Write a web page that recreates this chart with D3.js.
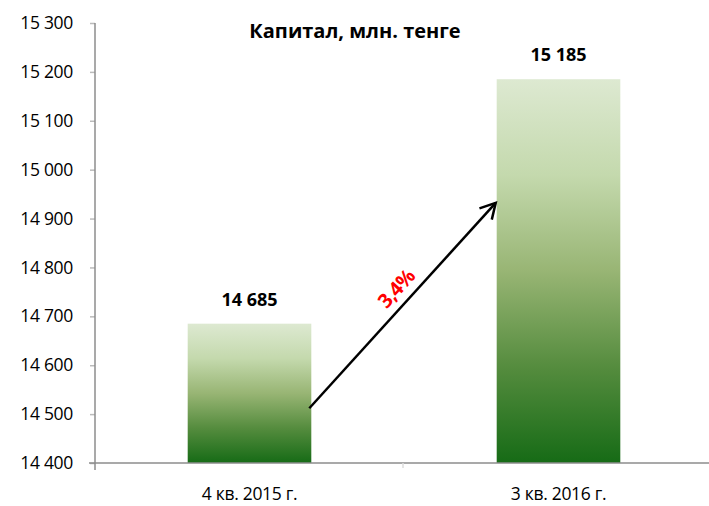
<!DOCTYPE html>
<html><head><meta charset="utf-8">
<script src="https://cdn.jsdelivr.net/npm/d3@7"></script>
<style>body{margin:0;background:#fff;}svg{display:block;}</style>
</head><body>
<svg id="c" width="709" height="506"></svg>
<script>
const categories = ["4 кв. 2015 г.", "3 кв. 2016 г."];
const values = [14685, 15185];
const valueLabels = ["14 685", "15 185"];
const tickValues = [14400, 14500, 14600, 14700, 14800, 14900, 15000, 15100, 15200, 15300];
const title = "Капитал, млн. тенге";
const growthLabel = "3,4%";
const arrowFrom = 14512, arrowTo = 14932;

const svg = d3.select("#c");
const font = "'Open Sans', sans-serif";
const y = d3.scaleLinear().domain([14400, 15300]).range([463, 23]);
const x = d3.scaleBand().domain(categories).range([95, 713]).paddingInner(0.6).paddingOuter(0.3);

const defs = svg.append("defs");
const g = defs.append("linearGradient").attr("id", "gr").attr("x1", 0).attr("y1", 0).attr("x2", 0).attr("y2", 1);
[["0%", "#dde9d1"], ["25%", "#c4d9ad"], ["50%", "#98b574"], ["75%", "#558c3e"], ["100%", "#166b16"]]
  .forEach(s => g.append("stop").attr("offset", s[0]).attr("stop-color", s[1]));

const mk = defs.append("marker").attr("id", "ah").attr("viewBox", "0 0 12 12").attr("refX", 10).attr("refY", 6)
  .attr("markerWidth", 8).attr("markerHeight", 8).attr("markerUnits", "strokeWidth").attr("orient", "auto");
mk.append("path").attr("d", "M1,1 L10,6 L1,11").attr("fill", "none").attr("stroke", "#000").attr("stroke-width", 1.5);

svg.selectAll("rect.bar").data(values).join("rect").attr("class", "bar")
  .attr("x", (d, i) => x(categories[i])).attr("width", x.bandwidth())
  .attr("y", d => y(d)).attr("height", d => y(14400) - y(d)).attr("fill", "url(#gr)");

// Y axis
const yAxis = d3.axisLeft(y).tickValues(tickValues).tickSize(5).tickPadding(17)
  .tickFormat(d => d3.format(",")(d).replace(",", " "));
const ga = svg.append("g").attr("transform", "translate(95,0)").call(yAxis);
ga.select(".domain").remove();
ga.selectAll("line").attr("stroke", "#bbb").attr("stroke-width", 1.5);
ga.selectAll("text").attr("font-family", font).attr("font-size", 17.5).attr("fill", "#000").attr("letter-spacing", "-0.3");
svg.append("line").attr("x1", 95).attr("x2", 95).attr("y1", y(15300)).attr("y2", 470).attr("stroke", "#8c8c8c").attr("stroke-width", 1.5);

// X axis
svg.append("line").attr("x1", 89).attr("x2", 709).attr("y1", y(14400)).attr("y2", y(14400)).attr("stroke", "#8c8c8c").attr("stroke-width", 1.5);
svg.append("line").attr("x1", 403).attr("x2", 403).attr("y1", y(14400)).attr("y2", 468).attr("stroke", "#ddd").attr("stroke-width", 1.5);
svg.selectAll("text.cat").data(categories).join("text").attr("class", "cat")
  .attr("x", d => x(d) + x.bandwidth() / 2).attr("y", 500).attr("text-anchor", "middle")
  .attr("font-family", font).attr("font-size", 17.5).attr("fill", "#000").attr("letter-spacing", "-0.3").text(d => d);

// value labels
svg.selectAll("text.val").data(values).join("text").attr("class", "val")
  .attr("x", (d, i) => x(categories[i]) + x.bandwidth() / 2).attr("y", d => y(d) - 18)
  .attr("text-anchor", "middle").attr("font-family", font).attr("font-weight", "bold")
  .attr("font-size", 18).attr("fill", "#000").text((d, i) => valueLabels[i]);

// title
svg.append("text").attr("x", 355).attr("y", 38).attr("text-anchor", "middle")
  .attr("font-family", font).attr("font-weight", "bold").attr("font-size", 20).attr("fill", "#000").text(title);

// arrow
const x0 = x(categories[0]) + x.bandwidth() - 2, y0 = y(arrowFrom);
const x1 = x(categories[1]) - 1, y1 = y(arrowTo);
svg.append("line").attr("x1", x0).attr("y1", y0).attr("x2", x1).attr("y2", y1)
  .attr("stroke", "#000").attr("stroke-width", 2.5).attr("marker-end", "url(#ah)");
const ang = Math.atan2(y1 - y0, x1 - x0) * 180 / Math.PI;
const mx = x0 + (x1 - x0) * 0.53, my = y0 + (y1 - y0) * 0.53;
svg.append("text").attr("transform", `translate(${mx},${my}) rotate(${ang}) translate(0,-9)`)
  .attr("text-anchor", "middle").attr("font-family", font).attr("font-weight", "bold")
  .attr("font-size", 20).attr("fill", "#ff0000").attr("letter-spacing", "-0.8").text(growthLabel);
</script>
</body></html>
